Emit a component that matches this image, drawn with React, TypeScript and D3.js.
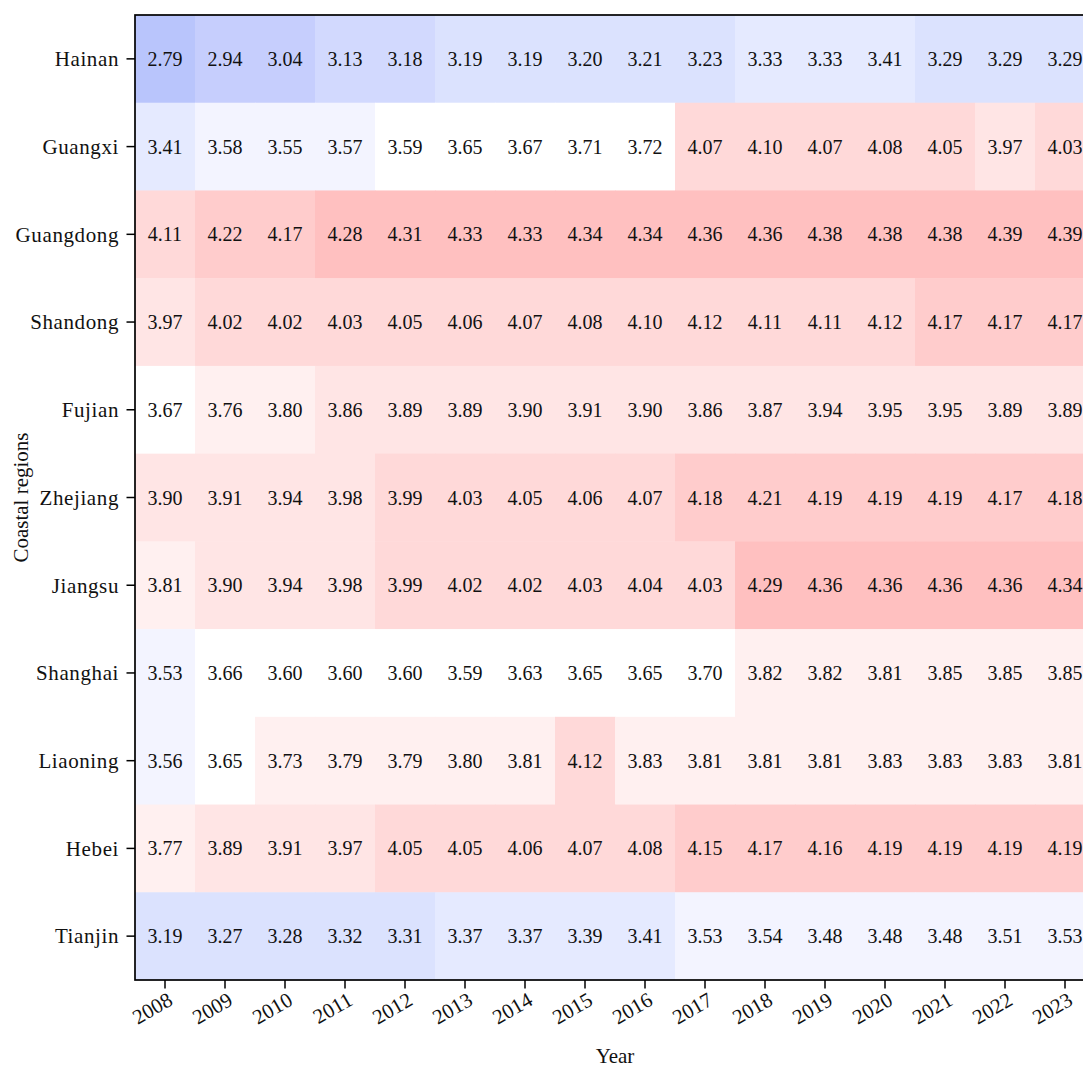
import React from "react";
import * as d3 from "d3";

const regions = ["Hainan", "Guangxi", "Guangdong", "Shandong", "Fujian", "Zhejiang", "Jiangsu", "Shanghai", "Liaoning", "Hebei", "Tianjin"];
const years = ["2008", "2009", "2010", "2011", "2012", "2013", "2014", "2015", "2016", "2017", "2018", "2019", "2020", "2021", "2022", "2023"];

const hainan = [2.79, 2.94, 3.04, 3.13, 3.18, 3.19, 3.19, 3.20, 3.21, 3.23, 3.33, 3.33, 3.41, 3.29, 3.29, 3.29];
const guangxi = [3.41, 3.58, 3.55, 3.57, 3.59, 3.65, 3.67, 3.71, 3.72, 4.07, 4.10, 4.07, 4.08, 4.05, 3.97, 4.03];
const guangdong = [4.11, 4.22, 4.17, 4.28, 4.31, 4.33, 4.33, 4.34, 4.34, 4.36, 4.36, 4.38, 4.38, 4.38, 4.39, 4.39];
const shandong = [3.97, 4.02, 4.02, 4.03, 4.05, 4.06, 4.07, 4.08, 4.10, 4.12, 4.11, 4.11, 4.12, 4.17, 4.17, 4.17];
const fujian = [3.67, 3.76, 3.80, 3.86, 3.89, 3.89, 3.90, 3.91, 3.90, 3.86, 3.87, 3.94, 3.95, 3.95, 3.89, 3.89];
const zhejiang = [3.90, 3.91, 3.94, 3.98, 3.99, 4.03, 4.05, 4.06, 4.07, 4.18, 4.21, 4.19, 4.19, 4.19, 4.17, 4.18];
const jiangsu = [3.81, 3.90, 3.94, 3.98, 3.99, 4.02, 4.02, 4.03, 4.04, 4.03, 4.29, 4.36, 4.36, 4.36, 4.36, 4.34];
const shanghai = [3.53, 3.66, 3.60, 3.60, 3.60, 3.59, 3.63, 3.65, 3.65, 3.70, 3.82, 3.82, 3.81, 3.85, 3.85, 3.85];
const liaoning = [3.56, 3.65, 3.73, 3.79, 3.79, 3.80, 3.81, 4.12, 3.83, 3.81, 3.81, 3.81, 3.83, 3.83, 3.83, 3.81];
const hebei = [3.77, 3.89, 3.91, 3.97, 4.05, 4.05, 4.06, 4.07, 4.08, 4.15, 4.17, 4.16, 4.19, 4.19, 4.19, 4.19];
const tianjin = [3.19, 3.27, 3.28, 3.32, 3.31, 3.37, 3.37, 3.39, 3.41, 3.53, 3.54, 3.48, 3.48, 3.48, 3.51, 3.53];

const seriesValues = [hainan, guangxi, guangdong, shandong, fujian, zhejiang, jiangsu, shanghai, liaoning, hebei, tianjin];

const colorBreaks = [2.865, 3.085, 3.185, 3.325, 3.445, 3.585, 3.725, 3.855, 3.985, 4.135, 4.25];
const colorLevels = ["#b9c5fc", "#c6cefd", "#d2d9fe", "#dbe2fe", "#e5eaff", "#f3f4ff", "#ffffff", "#fff0f0", "#ffe5e5", "#ffd9d9", "#ffcccc", "#ffc0c0"];

const W = 1083;
const H = 1070;
const margin = { left: 135, top: 15 };
const cellW = 60;
const plotH = 965;
const FONT = "'Liberation Serif', 'Times New Roman', serif";

export default function App() {
  const x = d3.scaleBand<string>().domain(years).range([margin.left, margin.left + cellW * years.length]).padding(0);
  const y = d3.scaleBand<string>().domain(regions).range([margin.top, margin.top + plotH]).padding(0);
  const color = d3.scaleThreshold<number, string>().domain(colorBreaks).range(colorLevels);
  const bottom = margin.top + plotH;
  const right = margin.left + cellW * years.length;

  return (
    <svg width={W} height={H} style={{ position: "absolute", left: 0, top: 0, background: "#fff" }} fontFamily={FONT}>
      <rect x={0} y={0} width={W} height={H} fill="#fff" />
      {regions.map((r, i) =>
        years.map((yr, j) => (
          <rect key={r + yr} x={x(yr)} y={y(r)} width={x.bandwidth() + 0.5} height={y.bandwidth() + 0.5} fill={color(seriesValues[i][j])} />
        ))
      )}
      {regions.map((r, i) =>
        years.map((yr, j) => (
          <text key={"t" + r + yr} x={(x(yr) as number) + x.bandwidth() / 2} y={(y(r) as number) + y.bandwidth() / 2} dy="0.35em" textAnchor="middle" fontSize={20} fill="#111">
            {seriesValues[i][j].toFixed(2)}
          </text>
        ))
      )}
      <rect x={margin.left} y={margin.top} width={right - margin.left} height={plotH} fill="none" stroke="#000" strokeWidth={1.7} />
      {regions.map((r) => {
        const cy = (y(r) as number) + y.bandwidth() / 2;
        return (
          <g key={"y" + r}>
            <line x1={margin.left - 8.5} x2={margin.left} y1={cy} y2={cy} stroke="#000" strokeWidth={1.5} />
            <text x={margin.left - 16} y={cy} dy="0.35em" textAnchor="end" fontSize={21} letterSpacing={0.6} fill="#111">{r}</text>
          </g>
        );
      })}
      {years.map((yr) => {
        const cx = (x(yr) as number) + x.bandwidth() / 2;
        return (
          <g key={"x" + yr}>
            <line x1={cx} x2={cx} y1={bottom} y2={bottom + 8.5} stroke="#000" strokeWidth={1.5} />
            <text transform={`translate(${cx + 9},${bottom + 24}) rotate(-30)`} textAnchor="end" fontSize={21} fill="#111">{yr}</text>
          </g>
        );
      })}
      <text x={(margin.left + right) / 2} y={1063} textAnchor="middle" fontSize={21} fill="#111">Year</text>
      <text transform={`translate(28,${margin.top + plotH / 2}) rotate(-90)`} textAnchor="middle" fontSize={21} fill="#111">Coastal regions</text>
    </svg>
  );
}
